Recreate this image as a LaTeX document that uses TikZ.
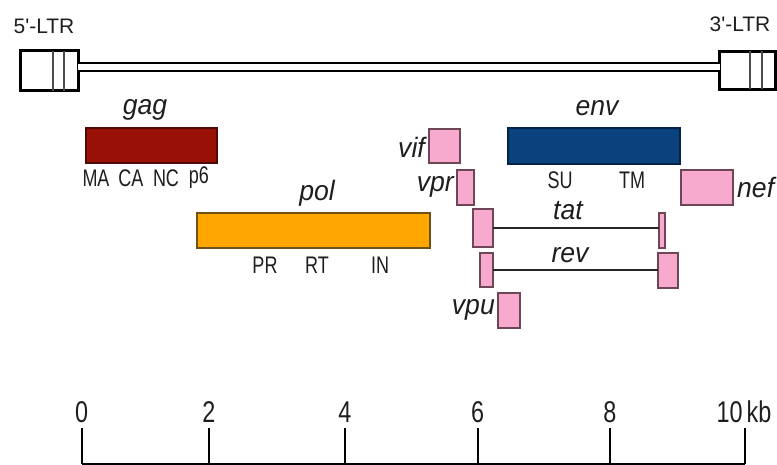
\documentclass[tikz,border=0pt]{standalone}
\usepackage{fontspec}
\setmainfont{Liberation Sans}
\definecolor{gagred}{RGB}{152,16,6}
\definecolor{gagedge}{RGB}{80,10,5}
\definecolor{polorange}{RGB}{255,166,0}
\definecolor{poledge}{RGB}{110,80,20}
\definecolor{envblue}{RGB}{10,66,126}
\definecolor{envedge}{RGB}{5,35,70}
\definecolor{accpink}{RGB}{248,170,206}
\definecolor{pinkedge}{RGB}{110,70,85}
\definecolor{ink}{RGB}{30,30,30}
\tikzset{
  genebar/.style={draw=#1, line width=1.2pt, inner sep=0pt, outer sep=0pt},
  accbox/.style={draw=pinkedge, fill=accpink, line width=1.2pt, inner sep=0pt, outer sep=0pt},
  genename/.style={font=\fontsize{28}{28}\selectfont\itshape, text=ink, inner sep=0pt, xscale=0.95},
  domlabel/.style={font=\fontsize{24}{24}\selectfont, text=ink, inner sep=0pt, xscale=0.75},
  ltrlabel/.style={font=\fontsize{21}{21}\selectfont, text=ink, inner sep=0pt},
  ltrbox/.style={draw=black, line width=3pt, fill=white, inner sep=0pt, outer sep=0pt},
  ltrmark/.style={draw=black!70, line width=1.3pt},
  spliceline/.style={draw=black!85, line width=2.5pt},
  scaletick/.style={draw=black, line width=1.6pt},
  scalelabel/.style={font=\fontsize{30}{30}\selectfont, text=ink, inner sep=0pt, xscale=0.78}
}
\begin{document}
\begin{tikzpicture}[x=1pt, y=-1pt]
\useasboundingbox (0,0) rectangle (777,465);

% long terminal repeats and the proviral genome between them
\node[ltrbox, minimum width=58, minimum height=40] (ltr5) at (49,71) {};
\node[ltrbox, minimum width=56, minimum height=38] (ltr3) at (747.5,70.5) {};
\draw[ltrmark] ([xshift=4pt]ltr5.north) -- ([xshift=4pt]ltr5.south);
\draw[ltrmark] ([xshift=15pt]ltr5.north) -- ([xshift=15pt]ltr5.south);
\draw[ltrmark] ([xshift=2.5pt]ltr3.north) -- ([xshift=2.5pt]ltr3.south);
\draw[ltrmark] ([xshift=14.5pt]ltr3.north) -- ([xshift=14.5pt]ltr3.south);
\draw[line width=2.2pt, double distance=5.2pt] ([yshift=4pt]ltr5.east) -- ([yshift=3.5pt]ltr3.west);
\node[ltrlabel] (l5) at (44,26) {5\textquotesingle-LTR};
\node[ltrlabel] (l3) at (740,24) {3\textquotesingle-LTR};

% structural genes
\node[genebar=gagedge, fill=gagred, minimum width=131, minimum height=35] (gag) at (151.5,145.5) {};
\node[genebar=poledge, fill=polorange, minimum width=233, minimum height=35] (pol) at (313.5,230.5) {};
\node[genebar=envedge, fill=envblue, minimum width=172, minimum height=36] (env) at (594,146) {};
\node[genename] (gagl) at (145,110) {gag};
\node[genename] (poll) at (317,193) {pol};
\node[genename] (envl) at (597,108) {env};

% protein domains
\node[domlabel] (ma) at (96,178) {MA};
\node[domlabel] (ca) at (131,178) {CA};
\node[domlabel] (nc) at (166,178) {NC};
\node[domlabel] (p6) at (199,178) {p6};
\node[domlabel] (pr) at (265,265) {PR};
\node[domlabel] (rt) at (317,265) {RT};
\node[domlabel] (in) at (380,265) {IN};
\node[domlabel] (su) at (560,180) {SU};
\node[domlabel] (tm) at (632,180) {TM};

% accessory and regulatory genes
\node[accbox, minimum width=31, minimum height=34] (vif) at (444.5,146) {};
\node[accbox, minimum width=17, minimum height=35] (vpr) at (465.5,187.5) {};
\node[accbox, minimum width=52, minimum height=35] (nef) at (707,187.5) {};
\node[accbox, minimum width=20, minimum height=38] (tat1) at (483,228) {};
\node[accbox, minimum width=6, minimum height=35] (tat2) at (662,230.5) {};
\node[accbox, minimum width=13, minimum height=34] (rev1) at (486.5,270) {};
\node[accbox, minimum width=20, minimum height=35] (rev2) at (668,270.5) {};
\node[accbox, minimum width=22, minimum height=35] (vpu) at (509,310.5) {};
\draw[spliceline] (tat1.east) -- (tat1.east -| tat2.west);
\draw[spliceline] (rev1.east) -- (rev1.east -| rev2.west);
\node[genename, anchor=east] (vifl) at (425,147) {vif};
\node[genename, anchor=east] (vprl) at (454,187) {vpr};
\node[genename, anchor=west] (nefl) at (737,187) {nef};
\node[genename] (tatl) at (568,211) {tat};
\node[genename] (revl) at (570,255) {rev};
\node[genename, anchor=east] (vpul) at (495,310) {vpu};

% kilobase scale
\coordinate (s0) at (81.7,464);
\coordinate (s10) at (745,464);
\draw[scaletick] (s0) -- (s10);
\foreach \k/\x in {0/81.7, 2/209, 4/345, 6/477.7, 8/610, 10/745} {
  \draw[scaletick] (\x,428) -- (\x,464);
}
\foreach \k/\x in {0/81.7, 2/209, 4/345, 6/477.7, 8/610} {
  \node[scalelabel] (t\k) at (\x,412) {\k};
}
\node[scalelabel] (t10) at (744,412) {10\,kb};
\end{tikzpicture}
\end{document}
